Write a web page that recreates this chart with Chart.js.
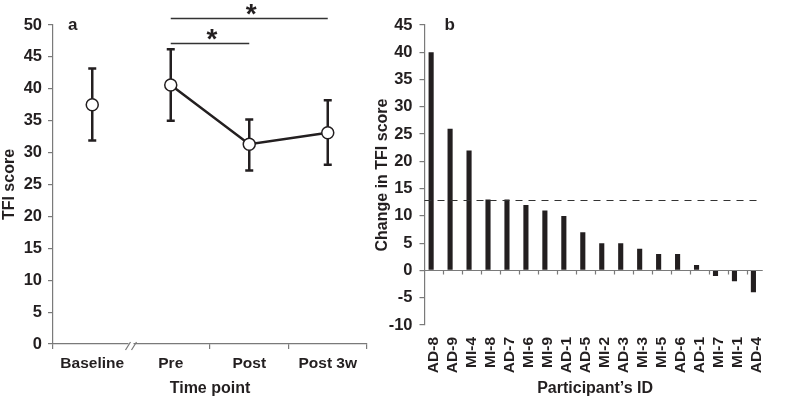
<!DOCTYPE html>
<html><head><meta charset="utf-8">
<script src="https://cdn.jsdelivr.net/npm/chart.js@4"></script>
<style>
html,body{margin:0;padding:0;background:#fff;width:787px;height:400px;overflow:hidden}
#wa{position:absolute;left:0;top:0;width:395px;height:400px}
#wb{position:absolute;left:370px;top:0;width:417px;height:400px}
</style></head><body>
<div id="wa"><canvas id="ca"></canvas></div>
<div id="wb"><canvas id="cb"></canvas></div>
<script>
// ---- Panel a data ----
const timePoints = ['Baseline', 'Pre', 'Post', 'Post 3w'];
const tfiMean  = [37.5, 40.6, 31.3, 33.1];
const tfiUpper = [43.2, 46.2, 35.2, 38.2];
const tfiLower = [31.9, 35.0, 27.2, 28.1];
const sigFrom  = ['Pre', 'Pre'];
const sigTo    = ['Post', 'Post 3w'];
const sigLevel = [47.2, 51.1];

// ---- Panel b data ----
const participants = ['AD-8','AD-9','MI-4','MI-8','AD-7','MI-6','MI-9','AD-1','AD-5','MI-2','AD-3','MI-3','MI-5','AD-6','AD-1','MI-7','MI-1','AD-4'];
const tfiChange = [40, 26, 22, 13, 13, 12, 11, 10, 7, 5, 5, 4, 3, 3, 1, -1, -2, -4];
const clinicalThreshold = 13;

const FONT = "'Liberation Sans', Arial, sans-serif";
const TXT = '#231f20';
const AX = '#7a7a7a';
const yTickFont = { family: FONT, size: 16.5, weight: 'bold' };
const xTickFont = { family: FONT, size: 15.5, weight: 'bold' };
const titleFont = { family: FONT, size: 16, weight: 'bold' };

const errorBars = {
  id: 'errorBars',
  beforeDatasetsDraw(chart) {
    const { ctx, scales: { x, y } } = chart;
    ctx.save();
    ctx.strokeStyle = TXT;
    ctx.lineWidth = 2.5;
    tfiMean.forEach((m, i) => {
      const px = x.getPixelForValue(i);
      const yt = y.getPixelForValue(tfiUpper[i]);
      const yb = y.getPixelForValue(tfiLower[i]);
      ctx.beginPath();
      ctx.moveTo(px, yt); ctx.lineTo(px, yb);
      ctx.moveTo(px - 4, yt); ctx.lineTo(px + 4, yt);
      ctx.moveTo(px - 4, yb); ctx.lineTo(px + 4, yb);
      ctx.stroke();
    });
    ctx.restore();
  }
};

const decorA = {
  id: 'decorA',
  afterDraw(chart) {
    const { ctx, chartArea, scales: { x, y } } = chart;
    ctx.save();
    // axis break between Baseline and Pre
    const xb = (x.getPixelForValue(0) + x.getPixelForValue(1)) / 2;
    const yb = chartArea.bottom;
    ctx.fillStyle = '#fff';
    ctx.fillRect(xb - 3, yb - 2, 5, 4);
    ctx.strokeStyle = AX;
    ctx.lineWidth = 1.2;
    ctx.beginPath();
    ctx.moveTo(xb - 6, yb + 6); ctx.lineTo(xb - 1, yb - 2);
    ctx.moveTo(xb, yb + 6); ctx.lineTo(xb + 5, yb - 2);
    ctx.stroke();
    // significance brackets
    ctx.strokeStyle = '#333';
    ctx.lineWidth = 1.5;
    ctx.fillStyle = TXT;
    ctx.font = "bold 28px " + FONT;
    ctx.textAlign = 'center';
    ctx.textBaseline = 'alphabetic';
    sigFrom.forEach((f, i) => {
      const x1 = x.getPixelForValue(timePoints.indexOf(f));
      const x2 = x.getPixelForValue(timePoints.indexOf(sigTo[i]));
      const ly = Math.round(y.getPixelForValue(sigLevel[i])) + 0.5;
      ctx.beginPath(); ctx.moveTo(x1, ly); ctx.lineTo(x2, ly); ctx.stroke();
      ctx.fillText('*', (x1 + x2) / 2 + 2, ly + 4);
    });
    // panel letter
    ctx.font = "bold 17px " + FONT;
    ctx.textAlign = 'left';
    ctx.fillText('a', chartArea.left + 15, chartArea.top + 5);
    ctx.restore();
  }
};

new Chart(document.getElementById('ca'), {
  type: 'line',
  data: {
    labels: timePoints,
    datasets: [{
      data: tfiMean,
      borderColor: TXT,
      borderWidth: 2.5,
      tension: 0,
      pointRadius: 6,
      pointBackgroundColor: '#fff',
      pointBorderColor: TXT,
      pointBorderWidth: 1.5,
      segment: { borderColor: c => c.p0DataIndex === 0 ? 'rgba(0,0,0,0)' : TXT }
    }]
  },
  options: {
    responsive: true, maintainAspectRatio: false, animation: false,
    layout: { padding: { left: 0, right: 28, top: 25, bottom: 0 } },
    plugins: { legend: { display: false }, tooltip: { enabled: false } },
    scales: {
      x: {
        offset: true,
        grid: { display: true, offset: true, drawOnChartArea: false, drawTicks: true, tickLength: 5,
                color: c => c.index === 1 ? 'rgba(0,0,0,0)' : AX, lineWidth: 1.2 },
        border: { color: AX, width: 1.2 },
        ticks: { color: TXT, font: xTickFont, padding: 5, maxRotation: 0 },
        title: { display: true, text: 'Time point', color: TXT, font: titleFont, padding: { top: 2, bottom: 2 } },
        afterFit: s => { s.height = 56; }
      },
      y: {
        min: 0, max: 50,
        ticks: { stepSize: 5, color: TXT, font: yTickFont, padding: 6 },
        grid: { drawOnChartArea: false, tickLength: 5, color: AX, lineWidth: 1.2 },
        border: { color: AX, width: 1.2 },
        title: { display: true, text: 'TFI score', color: TXT, font: titleFont, padding: { top: 0, bottom: 0 } },
        afterFit: s => { s.width = 53; }
      }
    }
  },
  plugins: [errorBars, decorA]
});

const decorB = {
  id: 'decorB',
  afterDatasetsDraw(chart) {
    const { ctx, chartArea, scales: { x, y } } = chart;
    ctx.save();
    const y0 = Math.round(y.getPixelForValue(0)) + 0.5;
    const cw = (chartArea.right - chartArea.left) / participants.length;
    ctx.strokeStyle = AX;
    ctx.lineWidth = 1.2;
    ctx.beginPath();
    ctx.moveTo(chartArea.left, y0); ctx.lineTo(chartArea.right - 3, y0);
    for (let i = 1; i < participants.length; i++) {
      const tx = Math.round(chartArea.left + i * cw) + 0.5;
      ctx.moveTo(tx, y0); ctx.lineTo(tx, y0 + 4);
    }
    ctx.stroke();
    // threshold dashed line
    const yt = Math.round(y.getPixelForValue(clinicalThreshold)) + 0.5;
    ctx.strokeStyle = '#333';
    ctx.lineWidth = 1.2;
    ctx.setLineDash([7, 6]);
    ctx.beginPath();
    ctx.moveTo(chartArea.left, yt); ctx.lineTo(chartArea.right - 8, yt);
    ctx.stroke();
    ctx.setLineDash([]);
    ctx.fillStyle = TXT;
    ctx.font = "bold 17px " + FONT;
    ctx.textAlign = 'left';
    ctx.fillText('b', chartArea.left + 20, chartArea.top + 5);
    ctx.restore();
  }
};

new Chart(document.getElementById('cb'), {
  type: 'bar',
  data: {
    labels: participants,
    datasets: [
      { data: tfiChange, backgroundColor: TXT, borderWidth: 0, barPercentage: 0.9, categoryPercentage: 0.6 },
      { data: [], backgroundColor: 'rgba(0,0,0,0)', barPercentage: 0.9, categoryPercentage: 0.6 }
    ]
  },
  options: {
    responsive: true, maintainAspectRatio: false, animation: false,
    layout: { padding: { left: 0, right: 5, top: 25, bottom: 0 } },
    plugins: { legend: { display: false }, tooltip: { enabled: false } },
    scales: {
      x: {
        grid: { display: false, drawTicks: false },
        border: { display: false },
        ticks: { color: TXT, font: xTickFont, padding: 12, minRotation: 90, maxRotation: 90, autoSkip: false },
        title: { display: true, text: 'Participant\u2019s ID', color: TXT, font: titleFont, padding: { top: 2, bottom: 2 } },
        afterFit: s => { s.height = 75; }
      },
      y: {
        min: -10, max: 45,
        ticks: { stepSize: 5, color: TXT, font: yTickFont, padding: 7 },
        grid: { drawOnChartArea: false, tickLength: 5, color: AX, lineWidth: 1.2 },
        border: { color: AX, width: 1.2 },
        title: { display: true, text: 'Change in TFI score', color: TXT, font: titleFont, padding: { top: 3, bottom: 0 } },
        afterFit: s => { s.width = 54.5; }
      }
    }
  },
  plugins: [decorB]
});
</script>
</body></html>
